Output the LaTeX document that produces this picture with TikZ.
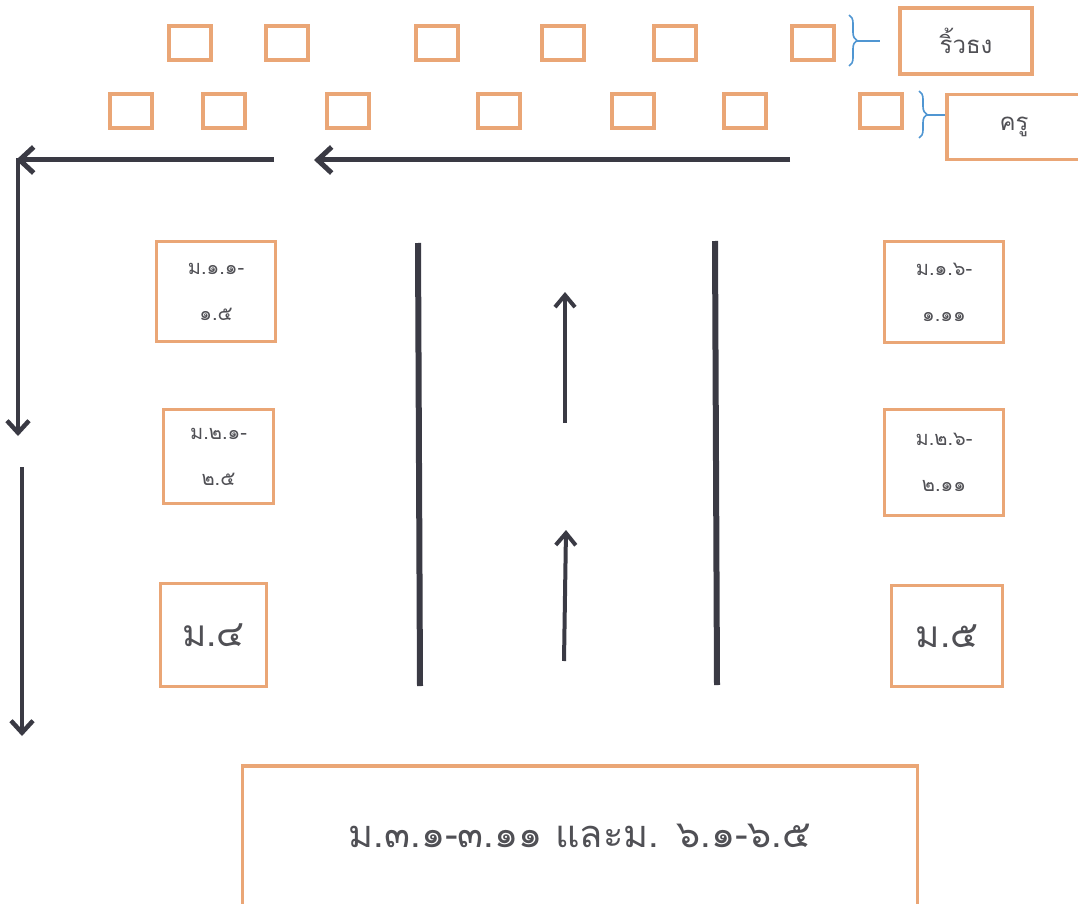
\documentclass[tikz,border=0pt]{standalone}
\usepackage{fontspec}
\newfontfamily\thaifont[Script=Thai]{Loma}
\usetikzlibrary{arrows.meta,decorations.pathreplacing}
\definecolor{boxor}{RGB}{234,166,118}
\definecolor{arr}{RGB}{58,58,68}
\definecolor{brc}{RGB}{80,150,210}
\definecolor{txt}{RGB}{80,80,85}
\tikzset{
  seat/.style={draw=boxor,line width=3.5pt},
  zone/.style={draw=boxor,line width=3.5pt,text=txt,align=center,font=\thaifont\fontsize{20}{46}\selectfont},
  bigzone/.style={zone,font=\thaifont\fontsize{37}{40}\selectfont},
  walk/.style={draw=arr,line width=5pt,-{Straight Barb[length=14pt,width=26pt,line width=5pt]}},
  walkv/.style={draw=arr,line width=4.5pt,-{Straight Barb[length=12pt,width=22pt,line width=4.5pt]}},
  walku/.style={draw=arr,line width=4pt,-{Straight Barb[length=12pt,width=20pt,line width=4pt]}},
  lane/.style={draw=arr,line width=6pt},
  brk/.style={draw=brc,line width=1.6pt,decorate,decoration={brace,amplitude=8pt}},
  brkline/.style={draw=brc,line width=1.6pt},
}
\begin{document}
\begin{tikzpicture}[x=1pt,y=-1pt]
\useasboundingbox (0,0) rectangle (1078,904);
\clip (0,0) rectangle (1078,904);
% row 1 flag seats
\foreach \xa/\n in {168/a,265/b,415/c,541/d,653/e,791/f}{
  \node[seat,minimum width=42pt,minimum height=34pt,inner sep=0pt] (r1\n) at (\xa+22,43) {};
}
% row 2 teacher seats
\foreach \xa/\n in {110/a,203/b,327/c,478/d,612/e,724/f,860/g}{
  \node[seat,minimum width=42pt,minimum height=34pt,inner sep=0pt] (r2\n) at (\xa+21,111) {};
}
% label boxes
\node[zone,font=\thaifont\fontsize{24}{28}\selectfont,minimum width=132pt,minimum height=66pt] (flag) at (966,41) {ริ้วธง};
\node[zone,font=\thaifont\fontsize{24}{28}\selectfont,minimum width=134pt,minimum height=65pt] (teach) at (1014,127) {ครู};
% braces
\coordinate (b1t) at (849,15);
\coordinate (b1b) at (849,66);
\draw[brk] (b1t) -- (b1b);
\coordinate (b1p) at (857,41);
\coordinate (b1q) at (880,41);
\draw[brkline] (b1p) -- (b1q);
\coordinate (b2t) at (919,91);
\coordinate (b2b) at (919,138);
\draw[brk] (b2t) -- (b2b);
\coordinate (b2p) at (927,115);
\draw[brkline] (b2p) -- (teach.west |- b2p);
% walking arrows
\coordinate (w1s) at (274,160);
\coordinate (w1e) at (16,160);
\coordinate (w2s) at (790,160);
\coordinate (w2e) at (314,160);
\coordinate (wc) at (18,158);
\coordinate (wd) at (18,436);
\coordinate (w3s) at (22,467);
\coordinate (w3e) at (22,736);
\draw[walk] (w1s) -- (w1e);
\draw[walk] (w2s) -- (w2e);
\draw[walkv] (wc) -- (wd);
\draw[walkv] (w3s) -- (w3e);
% lanes
\coordinate (l1t) at (418,243);
\coordinate (l1b) at (420,686);
\coordinate (l2t) at (715,241);
\coordinate (l2b) at (717,685);
\draw[lane] (l1t) -- (l1b);
\draw[lane] (l2t) -- (l2b);
\coordinate (u1s) at (565,423);
\coordinate (u1e) at (565,292);
\coordinate (u2s) at (564,661);
\coordinate (u2e) at (566,530);
\draw[walku] (u1s) -- (u1e);
\draw[walku] (u2s) -- (u2e);
% class zones
\node[zone,minimum width=119pt,minimum height=100pt] (m11) at (216,291.5) {ม.๑.๑-\\๑.๕};
\node[zone,minimum width=110pt,minimum height=94pt] (m21) at (218.5,456.5) {ม.๒.๑-\\๒.๕};
\node[bigzone,minimum width=106pt,minimum height=103pt] (m4) at (213.5,635) {ม.๔};
\node[zone,minimum width=119pt,minimum height=101pt] (m16) at (944,292) {ม.๑.๖-\\๑.๑๑};
\node[zone,minimum width=119pt,minimum height=106pt] (m26) at (944,462.5) {ม.๒.๖-\\๒.๑๑};
\node[bigzone,minimum width=111pt,minimum height=101pt] (m5) at (947,636) {ม.๕};
\node[bigzone,font=\thaifont\fontsize{38}{40}\selectfont,minimum width=675pt,minimum height=140pt] (m3) at (580,836) {ม.๓.๑-๓.๑๑ และม. ๖.๑-๖.๕};
\end{tikzpicture}
\end{document}
